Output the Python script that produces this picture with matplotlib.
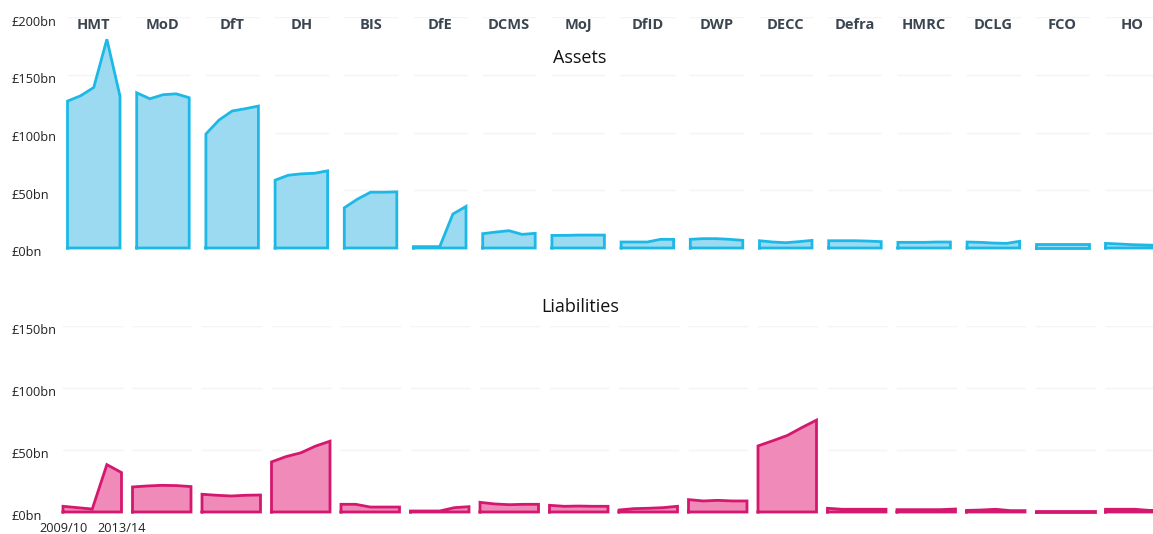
import numpy as np
import matplotlib
matplotlib.use("Agg")
import matplotlib.pyplot as plt
from matplotlib.transforms import blended_transform_factory

plt.rcParams['font.family'] = ['Open Sans', 'DejaVu Sans']

depts = ["HMT", "MoD", "DfT", "DH", "BIS", "DfE", "DCMS", "MoJ",
         "DfID", "DWP", "DECC", "Defra", "HMRC", "DCLG", "FCO", "HO"]
years = ["2009/10", "2010/11", "2011/12", "2012/13", "2013/14"]

# £bn
assets = [
    [127.2, 131.8, 139.0, 180.7, 131.5],  # HMT
    [134.4, 129.2, 132.7, 133.5, 130.1],  # MoD
    [98.7, 110.8, 118.6, 120.6, 122.9],   # DfT
    [58.7, 63.0, 64.2, 64.7, 66.8],       # DH
    [34.8, 42.3, 48.3, 48.3, 48.6],       # BIS
    [1.2, 1.2, 1.2, 29.4, 36.0],          # DfE
    [12.4, 13.8, 15.0, 11.8, 12.7],       # DCMS
    [10.9, 10.9, 11.2, 11.2, 11.2],       # MoJ
    [5.2, 5.2, 5.2, 7.5, 7.5],            # DfID
    [7.5, 8.1, 8.1, 7.5, 6.6],            # DWP
    [6.3, 5.2, 4.6, 5.5, 6.6],            # DECC
    [6.3, 6.3, 6.3, 6.0, 5.5],            # Defra
    [4.9, 4.9, 4.9, 5.2, 5.2],            # HMRC
    [5.2, 4.9, 4.3, 4.0, 5.8],            # DCLG
    [3.2, 3.2, 3.2, 3.2, 3.2],            # FCO
    [4.0, 3.5, 2.9, 2.6, 2.3],            # HO
]
liabilities = [
    [4.6, 3.5, 2.4, 38.2, 31.8],          # HMT
    [20.2, 21.0, 21.5, 21.3, 20.5],       # MoD
    [14.3, 13.5, 12.9, 13.5, 13.7],       # DfT
    [40.4, 44.7, 47.7, 53.1, 57.1],       # DH
    [6.2, 6.2, 4.0, 4.0, 4.0],            # BIS
    [0.8, 0.8, 0.8, 3.5, 4.3],            # DfE
    [7.8, 6.5, 5.9, 6.2, 6.2],            # DCMS
    [5.4, 4.6, 4.8, 4.6, 4.6],            # MoJ
    [1.6, 2.7, 3.0, 3.5, 4.6],            # DfID
    [10.0, 8.9, 9.4, 8.9, 8.9],           # DWP
    [53.3, 57.4, 61.7, 68.1, 74.1],       # DECC
    [3.0, 2.2, 2.2, 2.2, 2.2],            # Defra
    [1.9, 1.9, 1.9, 1.9, 2.4],            # HMRC
    [1.3, 1.6, 2.2, 1.1, 1.1],            # DCLG
    [1.1, 1.1, 1.1, 1.1, 1.1],            # FCO
    [2.2, 2.2, 2.2, 1.3, 1.3],            # HO
]
asset_ticks = [0, 50, 100, 150, 200]
liab_ticks = [0, 50, 100, 150]

W, H = 1153, 534
fig = plt.figure(figsize=(W / 100, H / 100), dpi=100)


def make_panel(left_px, step_px, width_px, y0_px, ytop_px, ymax, data,
               fill, edge, ticks, title, title_y, show_names):
    # axes spans pixel left_px .. W, one x unit = one department slot
    ax = fig.add_axes([left_px / W, (H - y0_px) / H,
                       (W - left_px) / W, (y0_px - ytop_px) / H])
    ax.set_xlim(0, (W - left_px) / step_px)
    ax.set_ylim(0, ymax)
    ax.axis("off")
    frac = width_px / step_px
    for i, vals in enumerate(data):
        xs = i + np.linspace(0, frac, len(vals))
        for t in ticks[1:]:
            ax.plot([xs[0], xs[-1]], [t, t], color="#f4f4f4", lw=1, zorder=0)
        ax.fill_between(xs, 0, vals, color=fill, lw=0, clip_on=False, zorder=1)
        ax.plot(np.r_[xs[0], xs, xs[-1], xs[0]], np.r_[0, vals, 0, 0],
                color=edge, lw=2, clip_on=False, zorder=2,
                solid_joinstyle="miter")
        if show_names:
            ax.annotate(depts[i], xy=((xs[0] + xs[-1]) / 2, ymax), xytext=(0, -8),
                        textcoords="offset pixels", ha="center", va="center",
                        fontsize=10.5, fontweight="bold", color="#3b4550")
    tr = blended_transform_factory(fig.transFigure, ax.transData)
    for t in ticks:
        ax.annotate("£%dbn" % t, xy=(12 / W, t), xycoords=tr, xytext=(0, -5),
                    textcoords="offset pixels", ha="left", va="center",
                    fontsize=9.2, color="#222222", annotation_clip=False)
    fig.text(580 / W, 1 - title_y / H, title, ha="center", va="center",
             fontsize=13, color="#111111")
    return ax, frac


make_panel(67.5, 69.2, 52.5, 248, 17, 200, assets, "#9cdaf1", "#1cb9e6",
           asset_ticks, "Assets", 58, True)
ax2, frac2 = make_panel(63, 69.5, 58.5, 512, 326, 150, liabilities,
                        "#f08ab8", "#d4176f", liab_ticks, "Liabilities", 307, False)

# year labels under the first liabilities panel
for x, lab in [(0, years[0]), (frac2, years[-1])]:
    ax2.annotate(lab, xy=(x, 0), xytext=(0, -17), textcoords="offset pixels",
                 ha="center", va="center", fontsize=9.2, color="#222222",
                 annotation_clip=False)

fig.savefig("out.png", dpi=100)
